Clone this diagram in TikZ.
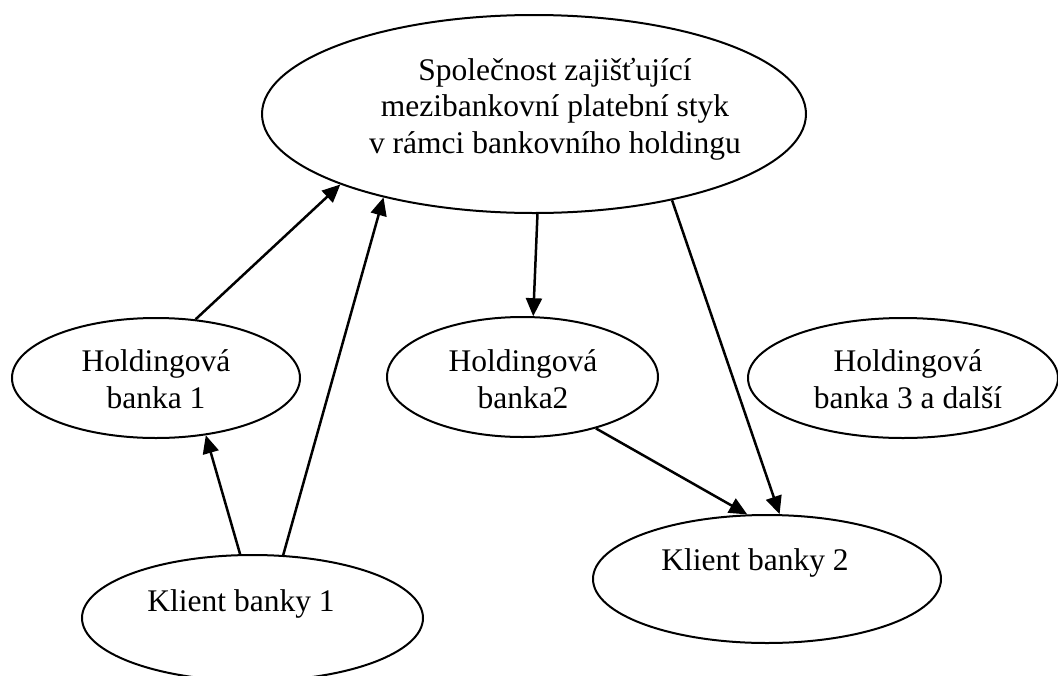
\documentclass[tikz,border=0pt]{standalone}
\usepackage{fontspec}
\setmainfont{Liberation Serif}
\usetikzlibrary{shapes.geometric,arrows.meta}

\begin{document}
\begin{tikzpicture}[x=1pt,y=-1pt,
        bubble/.style={draw,ellipse,line width=2pt,inner sep=0pt},
        txt/.style={align=center,inner sep=0pt,font=\fontsize{31.5}{36.5}\selectfont},
        link/.style={line width=2.5pt,-{Triangle[length=18pt,width=16pt]}}]
        \useasboundingbox (0,0) rectangle (1058,675);

        % Draw the ellipses
        \node[bubble,minimum width=544,minimum height=198] (spol) at (534,114) {};
        \node[bubble,minimum width=288,minimum height=120] (hb1) at (156,378) {};
        \node[bubble,minimum width=271,minimum height=120] (hb2) at (522.5,377) {};
        \node[bubble,minimum width=310,minimum height=120] (hb3) at (903,378) {};
        \node[bubble,minimum width=341,minimum height=126] (kb1) at (252.5,618) {};
        \node[bubble,minimum width=348,minimum height=128] (kb2) at (767,579) {};

        % Put the texts in
        \node[txt] (spoltext) at (555,109) {Společnost zajišťující\\mezibankovní platební styk\\v rámci bankovního holdingu};
        \node[txt] (hb1text) at (156,379) {Holdingová\\banka 1};
        \node[txt] (hb2text) at (523,379) {Holdingová\\banka2};
        \node[txt] (hb3text) at (908,379) {Holdingová\\banka 3 a další};
        \node[txt] (kb1text) at (241,604) {Klient banky 1};
        \node[txt] (kb2text) at (755,563) {Klient banky 2};

        % Draw the arrows between them
        \draw[link] (hb1.56) -- (spol.200);
        \draw[link] (kb1.64) -- (spol.209);
        \draw[link] (kb1.101) -- (hb1.311);
        \draw[link] (spol.272) -- (hb2.80);
        \draw[link] (spol.328) -- (kb2.79);
        \draw[link] (hb2.325) -- (kb2.107);
    \end{tikzpicture}
\end{document}
